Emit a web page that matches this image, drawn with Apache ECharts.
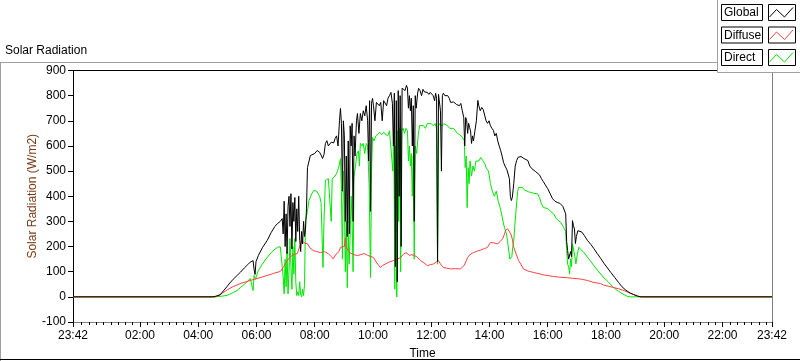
<!DOCTYPE html>
<html>
<head>
<meta charset="utf-8">
<script src="https://cdn.jsdelivr.net/npm/echarts@6/dist/echarts.min.js"></script>
<style>
html,body{margin:0;padding:0;background:#fff;}
#chart{width:800px;height:361px;}
</style>
</head>
<body>
<div id="chart"></div>
<script>
// Time axis in minutes since midnight (23:42 of previous day = -18, 23:42 = 1422)
const xMin = -18, xMax = 1422;
const majorTicks = [-18, 120, 240, 360, 480, 600, 720, 840, 960, 1080, 1200, 1320, 1422];
const yTicks = [-100, 0, 100, 200, 300, 400, 500, 600, 700, 800, 900];
const legendNames = ['Global', 'Diffuse', 'Direct'];
const seriesColors = ['#000000', '#ff4040', '#00e800'];

// [minute, W/m2]
const globalData = [[-18,0],[270,0],[275,2],[285,8],[299,40],[305,55],[312,70],[320,85],[327,98],[335,115],[342,128],[347,138],[353,144],[355,110],[357,89],[359,140],[364,165],[372,195],[382,224],[390,255],[398,280],[403,291],[409,300],[413,311],
[415,250],[417,380],[419,200],[421,330],[423,172],[425,360],[427,400],[429,280],[431,410],[433,190],[435,375],[437,300],[439,395],[441,220],[443,350],[445,260],[447,400],[449,230],[451,180],[453,260],[455,210],[457,300],[459,240],[461,270],[463,350],[465,514],[467,520],[471,562],[475,555],[480,570],[485,582],[490,575],[494,560],[496,550],[499,565],[502,610],[505,621],[508,600],[512,593],[514,615],[516,621],[519,612],[522,630],[525,640],[528,600],[531,700],[533,749],[535,690],[537,420],[539,700],[541,640],[543,300],[545,560],[547,240],[549,620],[551,250],[553,680],[555,600],[557,690],[559,300],[561,640],[563,560],[566,700],[568,729],[571,650],[574,729],[577,700],[580,740],[583,720],[586,760],[589,700],[591,540],[593,780],[595,340],[597,770],[599,789],[601,760],[604,700],[607,773],[610,780],[613,760],[616,773],[619,700],[622,780],[625,773],[628,760],[631,790],[634,800],[637,813],[640,770],[642,600],[644,810],[646,120],[648,780],[650,60],[652,820],[654,400],[656,800],[658,200],[660,830],[663,833],[666,820],[669,841],[671,830],[673,750],[675,800],[677,740],[679,790],[681,600],[683,760],[685,300],[687,800],[689,750],[692,810],[694,829],[697,820],[700,800],[703,825],[706,815],[709,820],[712,813],[715,805],[718,813],[721,810],[724,800],[727,780],[729,810],[731,790],[733,140],[735,805],[737,800],[739,740],[741,500],[743,800],[745,810],[748,800],[751,795],[754,800],[757,790],[760,773],[763,780],[766,775],[769,770],[772,765],[775,770],[778,760],[781,769],[784,740],[787,713],[789,600],[791,713],[793,700],[795,650],[797,690],[799,674],[801,660],[803,610],[805,640],[807,620],[810,660],[813,700],[816,781],[818,760],[821,740],[824,753],[827,745],[830,750],[833,700],[836,690],[839,700],[842,680],[845,670],[848,662],[851,640],[854,650],[857,620],[860,600],[863,582],[866,560],[869,534],[872,520],[876,505],[879,502],[881,470],[883,400],[885,383],[887,395],[890,450],[893,520],[896,542],[899,555],[902,562],[905,558],[908,555],[911,550],[915,545],[919,542],[923,520],[927,510],[931,505],[935,498],[939,495],[943,485],[947,470],[951,458],[955,445],[960,430],[965,410],[970,390],[975,380],[980,375],[985,372],[988,370],[991,360],[994,355],[997,330],[999,220],[1001,184],[1003,150],[1005,144],[1007,180],[1009,160],[1011,303],[1013,283],[1015,270],[1017,212],[1019,240],[1022,263],[1026,262],[1030,258],[1035,245],[1042,224],[1049,208],[1055,192],[1062,172],[1069,153],[1076,133],[1083,115],[1090,97],[1098,77],[1106,57],[1113,40],[1120,28],[1125,21],[1130,15],[1137,9],[1145,3],[1152,0],[1422,0]];

const diffuseData = [[-18,0],[277,0],[290,15],[300,28],[312,41],[330,55],[347,65],[365,75],[382,85],[395,93],[409,101],[416,120],[423,144],[430,160],[437,168],[444,172],[449,200],[454,224],[458,215],[465,211],[470,195],[477,184],[484,180],[492,176],[500,180],[508,172],[514,160],[518,151],[524,170],[530,180],[533,197],[537,190],[541,200],[543,235],[545,195],[553,175],[560,168],[568,164],[575,168],[582,172],[589,165],[596,160],[601,157],[606,140],[612,125],[615,117],[620,125],[626,131],[633,138],[642,144],[650,150],[657,157],[663,170],[668,176],[675,165],[680,168],[683,170],[690,160],[698,144],[705,135],[712,124],[718,128],[725,131],[730,138],[735,144],[739,130],[745,117],[752,114],[760,111],[770,112],[780,111],[784,110],[788,125],[795,157],[801,170],[807,176],[815,182],[822,186],[830,192],[836,197],[842,216],[848,215],[852,210],[857,211],[862,220],[867,231],[871,250],[873,263],[877,271],[880,265],[884,250],[887,230],[890,197],[895,170],[900,144],[905,128],[910,111],[920,102],[931,97],[942,92],[952,87],[962,84],[972,81],[985,78],[1001,76],[1010,74],[1022,72],[1030,70],[1042,65],[1055,57],[1069,53],[1075,47],[1085,42],[1096,37],[1106,32],[1117,25],[1127,17],[1137,9],[1145,3],[1152,0],[1422,0]];

const directData = [[-18,0],[273,0],[290,3],[300,6],[312,17],[320,25],[327,37],[335,50],[342,62],[347,73],[351,80],[353,25],[355,85],[358,70],[362,95],[364,105],[372,130],[382,157],[392,180],[403,197],[409,199],[413,197],[415,80],[417,12],[419,150],[421,40],[423,180],[425,12],[427,100],[429,232],[431,120],[433,30],[435,200],[437,90],[439,232],[441,60],[443,5],[445,20],[447,5],[449,60],[451,10],[453,0],[455,30],[457,5],[459,50],[461,303],[465,340],[468,383],[471,383],[474,410],[478,423],[481,423],[484,420],[487,423],[490,400],[493,375],[495,250],[497,117],[499,300],[502,463],[505,470],[508,470],[511,465],[514,300],[516,470],[519,465],[522,480],[525,490],[527,502],[530,520],[533,550],[535,420],[537,150],[539,500],[541,400],[543,100],[545,300],[547,37],[549,250],[551,130],[553,250],[555,400],[557,300],[559,100],[561,480],[564,520],[567,570],[570,580],[572,520],[574,610],[577,600],[580,610],[583,570],[586,610],[589,600],[592,450],[595,77],[597,500],[599,634],[602,620],[606,640],[610,634],[614,654],[618,645],[622,654],[626,650],[630,640],[634,660],[638,654],[641,500],[643,640],[645,30],[647,600],[649,0],[651,660],[653,300],[655,670],[657,100],[659,660],[662,670],[665,650],[668,670],[671,660],[673,540],[675,600],[677,520],[679,570],[681,400],[683,560],[685,150],[687,600],[690,570],[693,640],[696,681],[700,675],[704,681],[708,670],[712,689],[716,685],[720,689],[724,680],[728,689],[731,670],[733,130],[735,680],[738,689],[742,680],[746,689],[750,685],[754,680],[758,670],[762,665],[766,670],[770,660],[774,650],[778,654],[782,640],[785,634],[788,622],[790,514],[792,560],[794,355],[796,514],[798,450],[800,540],[803,480],[806,520],[809,500],[812,540],[815,542],[818,540],[822,554],[826,542],[830,530],[834,510],[838,500],[842,450],[846,420],[850,400],[854,420],[858,380],[862,355],[866,320],[869,290],[871,275],[873,275],[875,250],[877,224],[880,180],[882,150],[884,144],[886,160],[888,200],[890,224],[892,280],[895,350],[898,420],[900,435],[904,440],[908,435],[912,425],[916,420],[920,418],[925,415],[931,412],[935,405],[939,410],[943,395],[947,370],[951,355],[955,350],[960,351],[966,340],[972,330],[978,310],[987,295],[993,275],[997,260],[999,184],[1001,130],[1003,120],[1005,91],[1007,150],[1009,120],[1011,211],[1013,205],[1016,160],[1018,131],[1021,170],[1024,197],[1028,195],[1035,175],[1042,157],[1049,140],[1055,124],[1062,107],[1069,91],[1076,75],[1084,61],[1090,48],[1096,37],[1103,26],[1110,17],[1117,9],[1125,1],[1130,0],[1422,0]];

const minorTicks = [];
for (let m = 0; m <= 1410; m += 15) minorTicks.push(m);

function fmtTime(v) {
  const m = ((Math.round(v) % 1440) + 1440) % 1440;
  const h = Math.floor(m / 60), mm = m % 60;
  return String(h).padStart(2, '0') + ':' + String(mm).padStart(2, '0');
}

const FONT = 'Liberation Sans';
const chart = echarts.init(document.getElementById('chart'), null, {renderer: 'canvas'});

// legend built as graphics
const legendGraphics = [];
legendGraphics.push({type: 'rect', shape: {x: 717.5, y: -1, width: 83, height: 73.5},
  style: {fill: '#fff', stroke: '#a0a0a0', lineWidth: 1}, z: 100});
legendNames.forEach((name, i) => {
  const top = 4.5 + i * 22.5;
  legendGraphics.push({type: 'rect', shape: {x: 721.5, y: top, width: 41, height: 16},
    style: {fill: '#fff', stroke: '#000', lineWidth: 1}, z: 101});
  legendGraphics.push({type: 'text', x: 724, y: top + 8.5,
    style: {text: name, fill: '#000', font: '12px "' + FONT + '"', textVerticalAlign: 'middle'}, z: 102});
  legendGraphics.push({type: 'rect', shape: {x: 768.5, y: top, width: 27, height: 16},
    style: {fill: '#fff', stroke: '#000', lineWidth: 1}, z: 101});
  legendGraphics.push({type: 'polyline',
    shape: {points: [[769.5, top + 12.5], [776.5, top + 5], [784.5, top + 12.5], [793, top + 3]]},
    style: {stroke: seriesColors[i], lineWidth: 1, fill: null}, z: 102});
});

const option = {
  animation: false,
  backgroundColor: '#fff',
  textStyle: {fontFamily: FONT},
  grid: {left: 73, right: 28, top: 70.5, bottom: 39, containLabel: false, outerBoundsMode: 'none'},
  graphic: [
    {type: 'line', shape: {x1: 0, y1: 62.5, x2: 718, y2: 62.5}, style: {stroke: '#a0a0a0', lineWidth: 1}, z: 1},
    {type: 'line', shape: {x1: 0.5, y1: 62.5, x2: 0.5, y2: 361}, style: {stroke: '#a0a0a0', lineWidth: 1}, z: 1},
    {type: 'line', shape: {x1: 0, y1: 359.5, x2: 800, y2: 359.5}, style: {stroke: '#000', lineWidth: 1}, z: 1},
    {type: 'text', x: 5, y: 51, style: {text: 'Solar Radiation', fill: '#000', font: '12px "' + FONT + '"', textVerticalAlign: 'middle'}},
    ...legendGraphics
  ],
  xAxis: [
    {
      type: 'value', min: xMin, max: xMax, position: 'bottom',
      name: 'Time', nameLocation: 'middle', nameGap: 26,
      nameTextStyle: {color: '#000', fontSize: 12, fontFamily: FONT},
      axisLine: {show: true, onZero: false, lineStyle: {color: '#808080', width: 1}},
      axisTick: {show: true, length: 5, customValues: majorTicks, lineStyle: {color: '#000'}},
      axisLabel: {show: true, customValues: majorTicks, formatter: fmtTime, color: '#000', fontSize: 12,
        fontFamily: FONT, margin: 8, hideOverlap: false},
      splitLine: {show: false}
    },
    {
      type: 'value', min: xMin, max: xMax, position: 'bottom', gridIndex: 0,
      axisLine: {show: false, onZero: false},
      axisTick: {show: true, length: 3, customValues: minorTicks, lineStyle: {color: '#000'}},
      axisLabel: {show: false},
      splitLine: {show: false}
    },
    {
      type: 'value', min: xMin, max: xMax, position: 'top',
      axisLine: {show: true, onZero: false, lineStyle: {color: '#000', width: 1}},
      axisTick: {show: false}, axisLabel: {show: false}, splitLine: {show: false}
    }
  ],
  yAxis: [
    {
      type: 'value', min: -100, max: 900, interval: 100, position: 'left',
      name: 'Solar Radiation (W/m2)', nameLocation: 'middle', nameGap: 34, nameRotate: 90,
      nameMoveOverlap: false,
      nameTextStyle: {color: '#7a3a14', fontSize: 12, fontFamily: FONT},
      axisLine: {show: true, onZero: false, lineStyle: {color: '#000', width: 1}},
      axisTick: {show: true, length: 5, lineStyle: {color: '#000'}},
      axisLabel: {color: '#000', fontSize: 12, fontFamily: FONT, margin: 7,
        customValues: yTicks},
      splitLine: {show: false}
    },
    {
      type: 'value', min: -100, max: 900, position: 'right',
      axisLine: {show: true, onZero: false, lineStyle: {color: '#808080', width: 1}},
      axisTick: {show: false}, axisLabel: {show: false}, splitLine: {show: false}
    }
  ],
  series: [
    {name: 'Direct', type: 'line', data: directData, showSymbol: false, symbol: 'none',
      lineStyle: {color: seriesColors[2], width: 1}, itemStyle: {color: seriesColors[2]}, z: 2},
    {name: 'Diffuse', type: 'line', data: diffuseData, showSymbol: false, symbol: 'none',
      lineStyle: {color: seriesColors[1], width: 1}, itemStyle: {color: seriesColors[1]}, z: 3},
    {name: 'Global', type: 'line', data: globalData, showSymbol: false, symbol: 'none',
      lineStyle: {color: seriesColors[0], width: 1}, itemStyle: {color: seriesColors[0]}, z: 4}
  ]
};
chart.setOption(option);
</script>
</body>
</html>
